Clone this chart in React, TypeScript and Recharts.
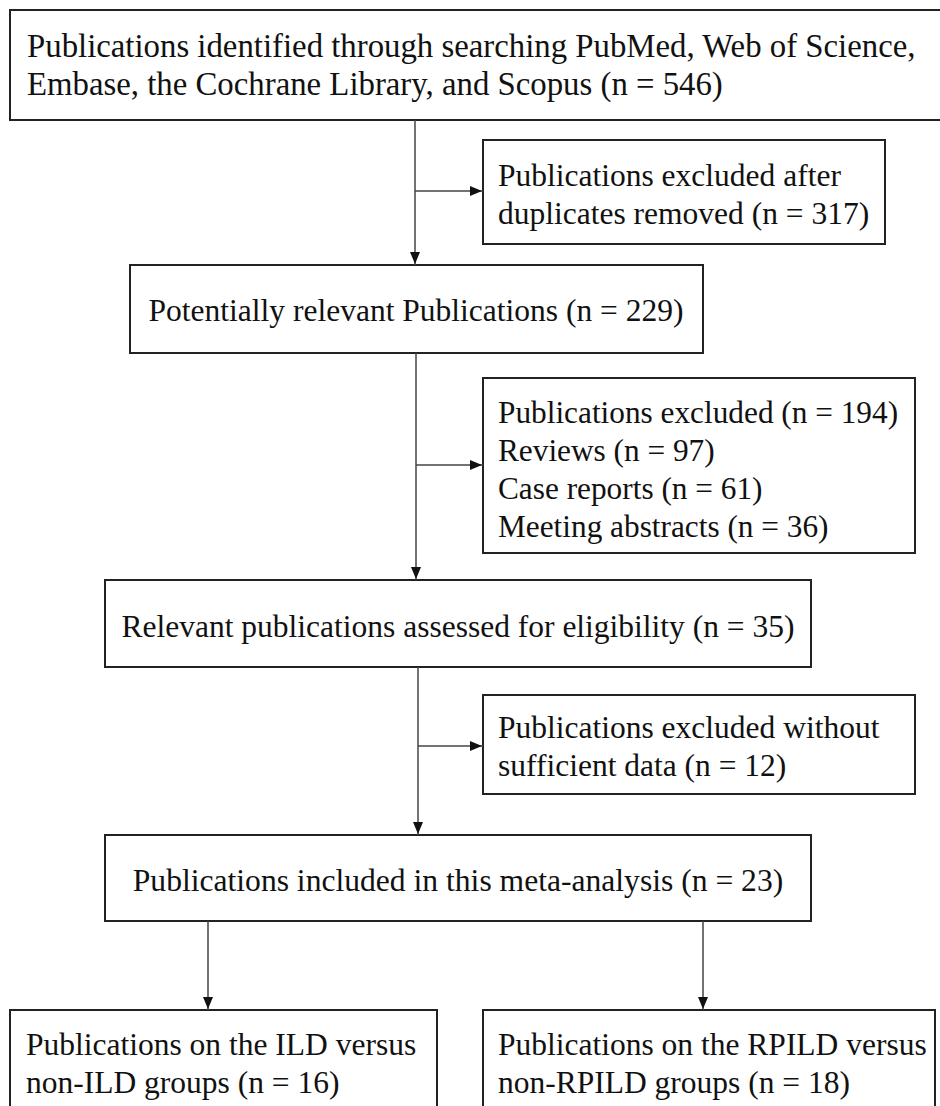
import React from 'react';
import { ComposedChart, XAxis, YAxis, ReferenceArea, ReferenceLine, ReferenceDot } from 'recharts';

// text of each stage of the flow diagram
const identifiedText = ['Publications identified through searching PubMed, Web of Science,', 'Embase, the Cochrane Library, and Scopus (n = 546)'];
const duplicatesText = ['Publications excluded after', 'duplicates removed (n = 317)'];
const relevantText = ['Potentially relevant Publications (n = 229)'];
const excludedText = ['Publications excluded (n = 194)', 'Reviews (n = 97)', 'Case reports (n = 61)', 'Meeting abstracts (n = 36)'];
const assessedText = ['Relevant publications assessed for eligibility (n = 35)'];
const noDataText = ['Publications excluded without', 'sufficient data (n = 12)'];
const includedText = ['Publications included in this meta-analysis (n = 23)'];
const ildText = ['Publications on the ILD versus', 'non-ILD groups (n = 16)'];
const rpildText = ['Publications on the RPILD versus', 'non-RPILD groups (n = 18)'];

const W = 940;
const H = 1106;
const FONT = "'Times New Roman', 'Liberation Serif', serif";
const LINE = 38;

type Box = { x1: number; x2: number; y1: number; y2: number; lines: string[]; align: 'left' | 'center'; tx: number; ty: number; fs: number };

// layout of the boxes
const boxes: Box[] = [
  { x1: 10, x2: 946, y1: 10, y2: 120, lines: identifiedText, align: 'left', tx: 27, ty: 46, fs: 32.8 },
  { x1: 483, x2: 885, y1: 140, y2: 244, lines: duplicatesText, align: 'left', tx: 498, ty: 175, fs: 31.5 },
  { x1: 130, x2: 703, y1: 265, y2: 353, lines: relevantText, align: 'center', tx: 416, ty: 310, fs: 31.5 },
  { x1: 483, x2: 915, y1: 378, y2: 553, lines: excludedText, align: 'left', tx: 498, ty: 412, fs: 31.3 },
  { x1: 105, x2: 811, y1: 580, y2: 667, lines: assessedText, align: 'center', tx: 458, ty: 626, fs: 31.5 },
  { x1: 483, x2: 915, y1: 695, y2: 794, lines: noDataText, align: 'left', tx: 498, ty: 727, fs: 31.5 },
  { x1: 105, x2: 811, y1: 835, y2: 921, lines: includedText, align: 'center', tx: 458, ty: 880, fs: 31.6 },
  { x1: 10, x2: 437, y1: 1010, y2: 1120, lines: ildText, align: 'left', tx: 26, ty: 1044, fs: 31.5 },
  { x1: 483, x2: 935, y1: 1010, y2: 1120, lines: rpildText, align: 'left', tx: 498, ty: 1044, fs: 31.5 },
];

type Arrow = { from: [number, number]; to: [number, number]; dir: 'down' | 'right' };

const arrows: Arrow[] = [
  { from: [415, 120], to: [415, 265], dir: 'down' },
  { from: [415, 191], to: [483, 191], dir: 'right' },
  { from: [416, 353], to: [416, 580], dir: 'down' },
  { from: [416, 465], to: [483, 465], dir: 'right' },
  { from: [418, 667], to: [418, 835], dir: 'down' },
  { from: [418, 746], to: [483, 746], dir: 'right' },
  { from: [208, 921], to: [208, 1010], dir: 'down' },
  { from: [703, 921], to: [703, 1010], dir: 'down' },
];

const arrowHead = (dir: 'down' | 'right') => (p: any) => {
  const { cx, cy } = p;
  const pts = dir === 'down'
    ? `${cx - 5},${cy - 13} ${cx + 5},${cy - 13} ${cx},${cy - 1}`
    : `${cx - 13},${cy - 5} ${cx - 13},${cy + 5} ${cx - 1},${cy}`;
  return <polygon points={pts} fill="#111" />;
};

const textShape = (b: Box) => (p: any) => {
  const { cx, cy } = p;
  return (
    <text
      x={cx}
      y={cy}
      fontFamily={FONT}
      fontSize={b.fs}
      fill="#111"
      textAnchor={b.align === 'center' ? 'middle' : 'start'}
      dominantBaseline="central"
    >
      {b.lines.map((l, i) => (
        <tspan key={i} x={cx} y={cy + i * LINE}>{l}</tspan>
      ))}
    </text>
  );
};

export default function App() {
  return (
    <div style={{ position: 'absolute', left: 0, top: 0, background: '#fff' }}>
      <ComposedChart width={W} height={H} margin={{ top: 0, right: 0, bottom: 0, left: 0 }} data={[]}>
        <XAxis type="number" dataKey="x" domain={[0, W]} hide allowDataOverflow />
        <YAxis type="number" dataKey="y" domain={[0, H]} reversed hide allowDataOverflow width={0} />
        {arrows.map((a, i) => (
          <ReferenceLine
            key={`l${i}`}
            segment={[{ x: a.from[0], y: a.from[1] }, { x: a.to[0], y: a.to[1] }]}
            stroke="#444"
            strokeWidth={1.5}
            ifOverflow="visible"
          />
        ))}
        {boxes.map((b, i) => (
          <ReferenceArea
            key={`b${i}`}
            x1={b.x1}
            x2={b.x2}
            y1={b.y1}
            y2={b.y2}
            fill="#fff"
            fillOpacity={1}
            stroke="#222"
            strokeWidth={2}
            ifOverflow="visible"
          />
        ))}
        {arrows.map((a, i) => (
          <ReferenceDot key={`h${i}`} x={a.to[0]} y={a.to[1]} r={0} ifOverflow="visible" shape={arrowHead(a.dir)} />
        ))}
        {boxes.map((b, i) => (
          <ReferenceDot key={`t${i}`} x={b.tx} y={b.ty} r={0} ifOverflow="visible" shape={textShape(b)} />
        ))}
      </ComposedChart>
    </div>
  );
}
